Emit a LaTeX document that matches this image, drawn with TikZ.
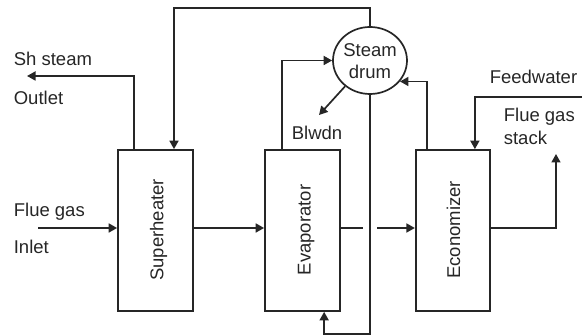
\documentclass[tikz,border=0pt]{standalone}
\usepackage{fontspec}
\setmainfont{Liberation Sans}
\usetikzlibrary{arrows.meta,calc,shapes.geometric}
\begin{document}
\begin{tikzpicture}[x=1pt,y=-1pt,
  line width=1.7pt, draw=black!85,
  box/.style={draw=black!85,rectangle,minimum width=75pt,minimum height=161pt,inner sep=0pt},
  lbl/.style={font=\fontsize{18.5}{22}\selectfont,text=black!85,inner sep=0pt},
  vlbl/.style={lbl,rotate=90,anchor=base},
  arr/.style={-{Triangle[length=8.5pt,width=9pt]}}]
\useasboundingbox (0,0) rectangle (582,336);
% boxes
\node[box] (sh) at (155.5,230.5) {};
\node[box] (ev) at (302.5,230.5) {};
\node[box,minimum width=74.5pt] (ec) at (453,230.5) {};
\node[draw=black!85,ellipse,minimum width=74pt,minimum height=67pt,inner sep=0pt] (dr) at (370,60.5) {};
% labels
\node[vlbl] (shl) at (163.3,230) {Superheater};
\node[vlbl] (evl) at (310.7,230) {Evaporator};
\node[vlbl] (ecl) at (460,230) {Economizer};
\node[lbl,anchor=base] (st1) at (370,56.7) {Steam};
\node[lbl,anchor=base] (st2) at (370,78.3) {drum};
\node[lbl,anchor=base west] (t1) at (13,66) {Sh steam};
\node[lbl,anchor=base west] (t2) at (13,104.3) {Outlet};
\node[lbl,anchor=base west] (t3) at (13,216.7) {Flue gas};
\node[lbl,anchor=base west] (t4) at (13,253.3) {Inlet};
\node[lbl,anchor=base] (t5) at (317,140) {Blwdn};
\node[lbl,anchor=base] (t6) at (533.5,83.3) {Feedwater};
\node[lbl,anchor=base west] (t7) at (503,121.7) {Flue gas};
\node[lbl,anchor=base west] (t8) at (503,145) {stack};
% coordinates
\coordinate (inA) at (38,228);
\coordinate (gapL) at (363,228);
\coordinate (gapR) at (377,228);
\coordinate (stackT) at (556,154);
\coordinate (topL) at (174,8);
\coordinate (shOut) at (27,76);
\coordinate (blw) at (319,115);
\coordinate (fw) at (582,97);
\coordinate (botR) at (370,334);
% gas flow
\draw[arr] (inA) -- (inA -| sh.west);
\draw[arr] (inA -| sh.east) -- (inA -| ev.west);
\draw (inA -| ev.east) -- (gapL);
\draw[arr] (gapR) -- (inA -| ec.west);
\draw[arr] (inA -| ec.east) -| (stackT);
% steam / water
\draw[arr] ($(sh.north west)+(17,0)$) |- (shOut);
\draw[arr] (dr.north) |- (topL) -- (topL |- sh.north);
\draw[arr] ($(ev.north west)+(18,0)$) |- (dr.west);
\draw[arr] (dr.226) -- (blw);
\draw[arr] ($(ec.north west)+(12,0)$) |- (dr.-35);
\draw[arr] (fw) -| ($(ec.north west)+(60,0)$);
\draw[arr] (dr.south) -- (botR) -| ($(ev.south west)+(60,0)$);
\end{tikzpicture}
\end{document}
